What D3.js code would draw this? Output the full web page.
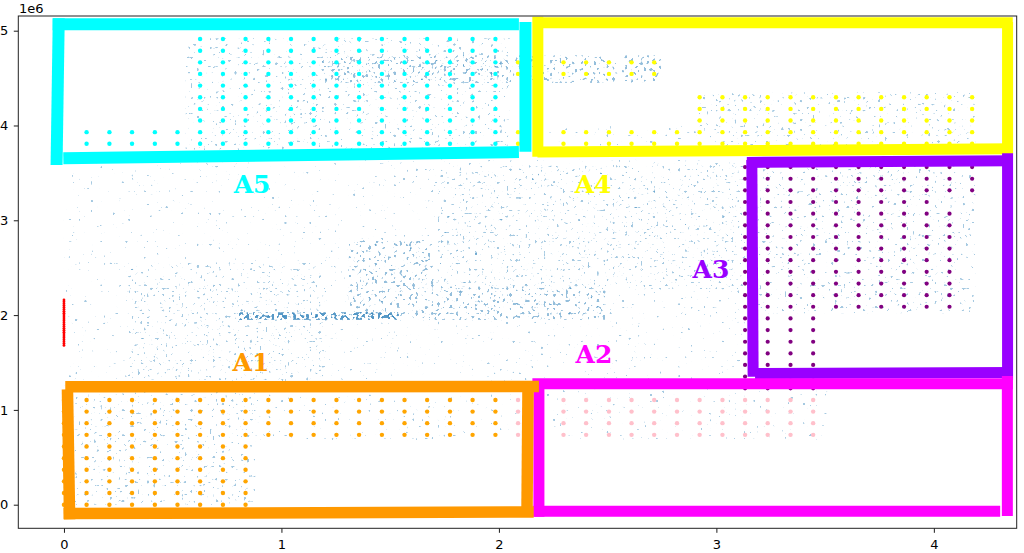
<!DOCTYPE html>
<html>
<head>
<meta charset="utf-8">
<script src="https://cdnjs.cloudflare.com/ajax/libs/d3/7.8.5/d3.min.js"></script>
<style>
  body { margin: 0; background: #fff; }
  svg { display: block; font-family: "DejaVu Sans", sans-serif; }
</style>
</head>
<body>
<svg id="chart" width="1024" height="553"></svg>
<script>
// lattice positions (x in units, y in 1e6)
const gridX = [0, 0.104, 0.209, 0.313, 0.418, 0.522, 0.626, 0.731, 0.835, 0.940,
  1.044, 1.148, 1.253, 1.357, 1.462, 1.566, 1.670, 1.775, 1.879, 1.984,
  2.088, 2.192, 2.297, 2.401, 2.506, 2.610, 2.714, 2.819, 2.923, 3.028,
  3.132, 3.236, 3.341, 3.445, 3.550, 3.654, 3.758, 3.863, 3.967, 4.072, 4.176]
const gridY = [0, 0.123, 0.246, 0.368, 0.491, 0.614, 0.737, 0.860, 0.982, 1.105,
  1.228, 1.351, 1.474, 1.596, 1.719, 1.842, 1.965, 2.088, 2.210, 2.333,
  2.456, 2.579, 2.702, 2.824, 2.947, 3.070, 3.193, 3.316, 3.438, 3.561,
  3.684, 3.807, 3.930, 4.052, 4.175, 4.298, 4.421, 4.544, 4.666, 4.789, 4.912]

// coloured blocks of the lattice: [firstCol, lastCol, firstRow, lastRow]
const orangeBlocks = [[0, 8, 0, 9], [9, 19, 6, 9]]
const pinkBlocks = [[20, 33, 6, 9]]
const purpleBlocks = [[30, 33, 10, 29], [34, 38, 17, 29], [39, 39, 17, 25], [39, 40, 27, 29]]
const yellowBlocks = [[20, 26, 37, 38], [20, 40, 31, 32], [28, 40, 33, 35]]
const cyanBlocks = [[1, 5, 31, 32], [6, 19, 31, 40]]

// red run of points at x = 0
const redY = [1.68, 1.70, 1.72, 1.74, 1.76, 1.78, 1.80, 1.82, 1.84, 1.86, 1.88, 1.90, 1.92,
  1.94, 1.96, 1.98, 2.00, 2.02, 2.04, 2.06, 2.08, 2.10, 2.12, 2.14, 2.16]

// extents of the faint blue point clouds: [x0, x1, y0, y1]
const sparseClouds = [[0.0, 3.13, 1.21, 3.64], [2.22, 3.51, 0.68, 1.21], [0.85, 2.08, 0.68, 1.16],
  [2.19, 2.91, 3.77, 4.0]]
const mediumClouds = [[0.56, 2.05, 3.74, 4.92], [2.91, 4.19, 3.77, 4.35], [0.29, 1.20, 1.2, 2.55],
  [0.05, 0.88, 0.0, 1.21], [1.72, 3.13, 2.27, 3.58], [3.19, 4.19, 2.02, 3.6]]
const denseClouds = [[1.18, 2.75, 4.45, 4.74], [1.31, 1.70, 1.97, 2.79], [1.70, 2.49, 1.95, 2.30]]
const lineClouds = [[0.805, 1.54, 1.95, 2.03]]

// hand drawn boxes, one segment per side: [x1, y1, x2, y2]
const boxA4 = [[2.180, 5.083, 4.363, 5.083], [2.179, 5.148, 2.179, 3.671],
  [2.177, 3.720, 4.363, 3.755], [4.339, 5.092, 4.339, 3.699]]
const boxA3 = [[3.140, 3.610, 4.363, 3.628], [3.163, 3.636, 3.169, 1.350],
  [4.339, 3.707, 4.339, 1.315], [3.178, 1.384, 4.363, 1.395]]
const boxA2 = [[2.154, 1.275, 4.363, 1.275], [2.184, 1.315, 2.184, -0.127],
  [2.158, -0.070, 4.305, -0.070], [4.338, 1.358, 4.338, -0.119]]
const boxA1 = [[0.006, 1.244, 2.184, 1.247], [0.016, 1.217, 0.026, -0.154],
  [-0.002, -0.093, 2.160, -0.077], [2.134, 1.281, 2.129, -0.127]]
const boxA5 = [[-0.052, 5.069, 2.092, 5.069], [-0.024, 5.131, -0.034, 3.583],
  [-0.003, 3.654, 2.092, 3.720], [2.122, 5.092, 2.122, 3.724]]

const labelNames = ['A5', 'A4', 'A3', 'A2', 'A1']
const labelX = [0.865, 2.433, 2.975, 2.437, 0.860]
const labelY = [3.288, 3.288, 2.391, 1.495, 1.411]

const xTicks = [0, 1, 2, 3, 4]
const yTicks = [0, 1, 2, 3, 4, 5]

const width = 1024, height = 553
const svg = d3.select('#chart')

const x = d3.scaleLinear().domain([-0.210, 4.381]).range([18.3, 1016.7])
const y = d3.scaleLinear().domain([-0.249, 5.155]).range([528.3, 16])

// speckle texture for the clouds
const defs = svg.append('defs')
function addSpeckle(id, seed, threshold) {
    const f = defs.append('filter').attr('id', id)
        .attr('filterUnits', 'userSpaceOnUse')
        .attr('x', 0).attr('y', 0).attr('width', width).attr('height', height)
        .attr('color-interpolation-filters', 'sRGB')
    f.append('feTurbulence').attr('type', 'fractalNoise').attr('baseFrequency', 0.32)
        .attr('numOctaves', 1).attr('seed', seed).attr('result', 'noise')
    f.append('feColorMatrix').attr('in', 'noise').attr('type', 'matrix')
        .attr('values', '0 0 0 0 0  0 0 0 0 0  0 0 0 0 0  1 0 0 0 0').attr('result', 'lum')
    f.append('feComponentTransfer').attr('in', 'lum').attr('result', 'mask')
        .append('feFuncA').attr('type', 'linear').attr('slope', 22).attr('intercept', -22 * threshold)
    f.append('feComposite').attr('in', 'SourceGraphic').attr('in2', 'mask').attr('operator', 'in')
}
addSpeckle('spk-sparse', 2, 0.712)
addSpeckle('spk-medium', 5, 0.678)
addSpeckle('spk-dense', 9, 0.618)
addSpeckle('spk-line', 13, 0.52)

function drawClouds(list, filterId, alpha) {
    svg.append('g').attr('filter', 'url(#' + filterId + ')')
        .selectAll('rect').data(list).join('rect')
        .attr('x', d => x(d[0]))
        .attr('y', d => y(d[3]))
        .attr('width', d => x(d[1]) - x(d[0]))
        .attr('height', d => y(d[2]) - y(d[3]))
        .attr('fill', '#1f77b4')
        .attr('fill-opacity', alpha)
}
drawClouds(sparseClouds, 'spk-sparse', 0.4)
drawClouds(mediumClouds, 'spk-medium', 0.4)
drawClouds(denseClouds, 'spk-dense', 0.48)
drawClouds(lineClouds, 'spk-line', 0.75)

// lattice points
function blockPoints(blocks) {
    const pts = []
    blocks.forEach(b => {
        for (let i = b[0]; i <= b[1]; i++) {
            for (let j = b[2]; j <= b[3]; j++) pts.push([gridX[i], gridY[j]])
        }
    })
    return pts
}
function drawPoints(pts, color, r) {
    svg.append('g').selectAll('circle').data(pts).join('circle')
        .attr('cx', d => x(d[0]))
        .attr('cy', d => y(d[1]))
        .attr('r', r)
        .attr('fill', color)
}
drawPoints(blockPoints(orangeBlocks), '#ffa500', 2.2)
drawPoints(blockPoints(pinkBlocks), '#ffc0cb', 2.2)
drawPoints(blockPoints(purpleBlocks), '#800080', 2.1)
drawPoints(blockPoints(yellowBlocks), '#ffff00', 2.2)
drawPoints(blockPoints(cyanBlocks), '#00ffff', 2.2)
drawPoints(redY.map(v => [0, v]), '#ff0000', 1.4)

// boxes
function drawBox(sides, color, w) {
    svg.append('g').selectAll('line').data(sides).join('line')
        .attr('x1', d => x(d[0])).attr('y1', d => y(d[1]))
        .attr('x2', d => x(d[2])).attr('y2', d => y(d[3]))
        .attr('stroke', color)
        .attr('stroke-width', w)
        .attr('stroke-linecap', 'butt')
}
drawBox(boxA4, '#ffff00', 11)
drawBox(boxA3, '#9900ff', 11)
drawBox(boxA2, '#ff00ff', 11)
drawBox(boxA1, '#ff9900', 11.5)
drawBox(boxA5, '#00ffff', 12)

const labelColor = { A1: '#ff9900', A2: '#ff00ff', A3: '#9900ff', A4: '#ffff00', A5: '#00ffff' }
svg.append('g').selectAll('text').data(labelNames).join('text')
    .attr('x', (d, i) => x(labelX[i]))
    .attr('y', (d, i) => y(labelY[i]))
    .attr('text-anchor', 'middle')
    .attr('font-family', '"DejaVu Serif", serif')
    .attr('font-weight', 'bold')
    .attr('font-size', 25)
    .attr('fill', d => labelColor[d])
    .text(d => d)

// axes
const xAxis = svg.append('g').attr('transform', 'translate(0,528.3)')
    .call(d3.axisBottom(x).tickValues(xTicks).tickSize(4.5).tickPadding(6.5).tickFormat(d3.format('d')))
const yAxis = svg.append('g').attr('transform', 'translate(18.3,0)')
    .call(d3.axisLeft(y).tickValues(yTicks).tickSize(4.5).tickPadding(5.5).tickFormat(d3.format('d')))
xAxis.select('.domain').remove()
yAxis.select('.domain').remove()
svg.selectAll('.tick text').attr('font-size', 13).attr('font-family', '"DejaVu Sans", sans-serif').attr('fill', '#000')
svg.selectAll('.tick line').attr('stroke', '#000').attr('stroke-width', 0.9)

svg.append('rect')
    .attr('x', 18.3).attr('y', 16)
    .attr('width', 1016.7 - 18.3).attr('height', 528.3 - 16)
    .attr('fill', 'none').attr('stroke', '#222').attr('stroke-width', 1)

svg.append('text').text('1e6')
    .attr('x', 19).attr('y', 12.5)
    .attr('font-size', 13)
</script>
</body>
</html>
